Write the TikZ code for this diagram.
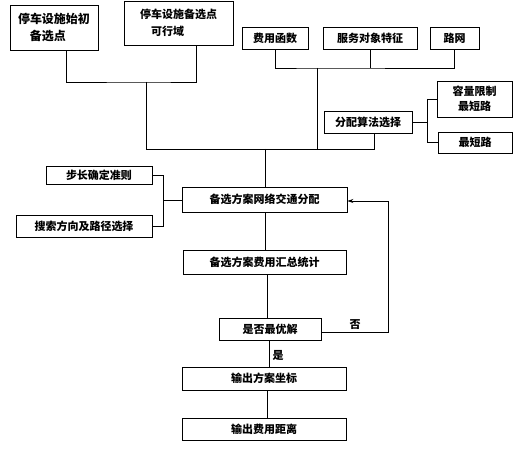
\documentclass[tikz,border=0pt]{standalone}
\usepackage{fontspec}
\setmainfont{Noto Sans CJK SC}
\usetikzlibrary{arrows.meta}
\tikzset{
  box/.style={draw, line width=0.9pt, inner sep=0pt, align=center, font=\bfseries\fontsize{11}{15}\selectfont},
  conn/.style={line width=0.8pt},
  lbl/.style={font=\bfseries\fontsize{11}{13}\selectfont, inner sep=0pt}
}
\begin{document}
\begin{tikzpicture}[x=1pt,y=-1pt]
\useasboundingbox (0,0) rectangle (523,449);
% top boxes
\node[box, minimum width=88pt, minimum height=45pt, align=left, font=\bfseries\fontsize{12}{17}\selectfont] (b1) at (54,27.5) {停车设施始初\\\hspace*{1em}备选点};
\node[box, minimum width=109pt, minimum height=44pt, align=left, font=\bfseries\fontsize{11}{17}\selectfont] (b2) at (178.5,23) {停车设施备选点\\\hspace*{1em}可行域};
\node[box, minimum width=66pt, minimum height=22pt] (fy) at (275,38) {费用函数};
\node[box, minimum width=94pt, minimum height=22pt] (fw) at (370,38) {服务对象特征};
\node[box, minimum width=49pt, minimum height=22pt] (lw) at (454.5,38) {路网};
\node[box, minimum width=88pt, minimum height=22pt] (fp) at (368,122) {分配算法选择};
\node[box, minimum width=75pt, minimum height=36pt] (rl) at (474.5,99) {容量限制\\最短路};
\node[box, minimum width=74pt, minimum height=21pt] (zd) at (475,142.5) {最短路};
\node[box, minimum width=106pt, minimum height=18pt] (bc) at (99,175.5) {步长确定准则};
\node[box, minimum width=136pt, minimum height=22pt] (ss) at (84,226) {搜索方向及路径选择};
\node[box, minimum width=165pt, minimum height=25pt] (net) at (264.5,199.5) {备选方案网络交通分配};
\node[box, minimum width=163pt, minimum height=24pt] (sum) at (264.5,262) {备选方案费用汇总统计};
\node[box, minimum width=102pt, minimum height=22pt] (opt) at (270,329) {是否最优解};
\node[box, minimum width=164pt, minimum height=23pt] (o1) at (264,378.5) {输出方案坐标};
\node[box, minimum width=164pt, minimum height=22pt] (o2) at (264,429) {输出费用距离};
% junction coordinates
\coordinate (j1) at (146,82);
\coordinate (j2) at (317,68);
\coordinate (j3) at (265,149);
\coordinate (j4) at (427,122);
\coordinate (j5) at (163,200);
\coordinate (j6) at (388,332);
% top-left bracket
\draw[conn] ([xshift=12pt]b1.south) |- (j1) -| ([xshift=17.5pt]b2.south);
\draw[conn] (j1) |- (j3);
% top-right bracket
\draw[conn] (fy.south) |- (j2) -| (lw.south);
\draw[conn] (fw.south) -- (fw.south |- j2);
\draw[conn] (j2) |- (j3);
\draw[conn] ([xshift=6pt]fp.south) |- (j3);
\draw[conn] (j3) -- (j3 |- net.north);
% algorithm bracket
\draw[conn] (fp.east) -- (j4);
\draw[conn] (j4 |- rl.west) -- (j4 |- zd.west);
\draw[conn] (j4 |- rl.west) -- (rl.west);
\draw[conn] (j4 |- zd.west) -- (zd.west);
% left bracket
\draw[conn] (bc.east) -| (j5 |- ss.east) -- (ss.east);
\draw[conn] (j5) -- (j5 -| net.west);
% main chain
\draw[conn] ([xshift=0.5pt]net.south) -- ([xshift=0.5pt]net.south |- sum.north);
\draw[conn] ([xshift=2.5pt]sum.south) -- ([xshift=2.5pt]sum.south |- opt.north);
\draw[conn] ([xshift=-1pt]opt.south) -- ([xshift=-1pt]opt.south |- o1.north);
\draw[conn] ([xshift=3pt]o1.south) -- ([xshift=3pt]o1.south |- o2.north);
% feedback
\draw[conn, -{Stealth[length=6pt,width=4pt]}] (opt.east |- j6) -- (j6) |- ([yshift=-1.5pt]net.east);
\node[lbl] (no) at (355,325) {否};
\node[lbl] (yes) at (278,355) {是};
\end{tikzpicture}
\end{document}
